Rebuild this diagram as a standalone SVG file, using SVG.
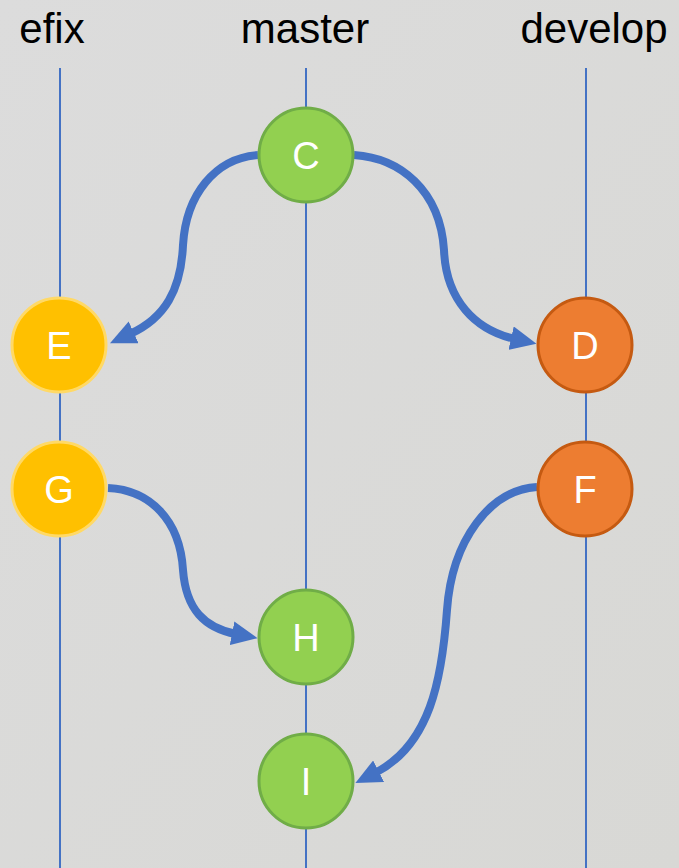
<svg xmlns="http://www.w3.org/2000/svg" width="679" height="868" viewBox="0 0 679 868">
  <style>
    .lane { stroke: #4472c4; stroke-width: 2; fill: none; }
    .label { font-family: "Liberation Sans", Arial, sans-serif; font-size: 42px; fill: #000; text-anchor: middle; }
    .node text { font-family: "Liberation Sans", Arial, sans-serif; font-size: 38px; fill: #fff; text-anchor: middle; }
    .green { fill: #92d050; stroke: #70ad47; stroke-width: 3; }
    .yellow { fill: #ffc000; stroke: #ffd966; stroke-width: 3; }
    .orange { fill: #ed7d31; stroke: #c55a11; stroke-width: 3; }
    .edge { stroke: #4472c4; stroke-width: 8; fill: none; marker-end: url(#arrow); }
  </style>
  <defs>
    <linearGradient id="bg" x1="0" y1="0" x2="1" y2="1">
      <stop offset="0" stop-color="#dcdcdc"/>
      <stop offset="1" stop-color="#d8d8d5"/>
    </linearGradient>
    <marker id="arrow" viewBox="0 -12 26 24" refX="4" refY="0" markerWidth="26" markerHeight="24" markerUnits="userSpaceOnUse" orient="auto">
      <path d="M0,-12 L26,0 L0,12 Z" fill="#4472c4"/>
    </marker>
  </defs>
  <rect x="0" y="0" width="679" height="868" fill="url(#bg)"/>

  <g id="labels">
    <text class="label" x="52" y="43">efix</text>
    <text class="label" x="305" y="43">master</text>
    <text class="label" x="594" y="43">develop</text>
  </g>

  <g id="lanes">
    <line class="lane" x1="60" y1="68" x2="60" y2="868"/>
    <line class="lane" x1="306" y1="68" x2="306" y2="868"/>
    <line class="lane" x1="586" y1="68" x2="586" y2="868"/>
  </g>

  <g id="connectors">
    <path class="edge" d="M258,155 C215,158 186,195 183,245 C181,290 165,318 130,334"/>
    <path class="edge" d="M354,155 C400,158 440,190 444,250 C446,300 475,330 515,339"/>
    <path class="edge" d="M108,488 C150,490 180,520 183,570 C186,610 205,628 236,634"/>
    <path class="edge" d="M537,487 C490,490 452,540 447,610 C442,680 430,745 375,773"/>
  </g>

  <g id="node-C" class="node">
    <ellipse class="green" cx="306" cy="155" rx="47" ry="47"/>
    <text x="306" y="169">C</text>
  </g>
  <g id="node-E" class="node">
    <ellipse class="yellow" cx="59" cy="345" rx="47" ry="47"/>
    <text x="59" y="359">E</text>
  </g>
  <g id="node-D" class="node">
    <ellipse class="orange" cx="585" cy="345" rx="47" ry="47"/>
    <text x="585" y="359">D</text>
  </g>
  <g id="node-G" class="node">
    <ellipse class="yellow" cx="59" cy="489" rx="47" ry="47"/>
    <text x="59" y="503">G</text>
  </g>
  <g id="node-F" class="node">
    <ellipse class="orange" cx="585" cy="489" rx="47" ry="47"/>
    <text x="585" y="503">F</text>
  </g>
  <g id="node-H" class="node">
    <ellipse class="green" cx="306" cy="637" rx="47" ry="47"/>
    <text x="306" y="651">H</text>
  </g>
  <g id="node-I" class="node">
    <ellipse class="green" cx="306" cy="781" rx="47" ry="47"/>
    <text x="306" y="795">I</text>
  </g>
</svg>
